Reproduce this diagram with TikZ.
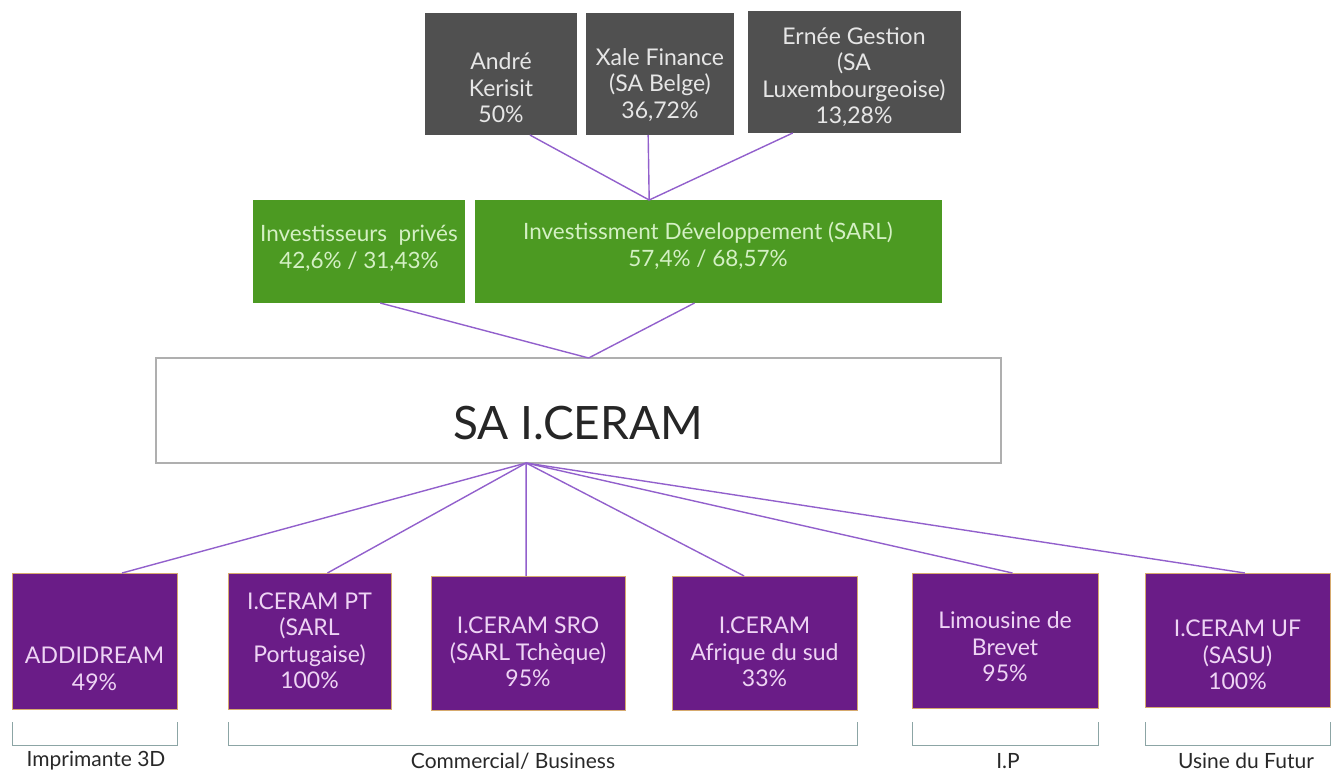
\documentclass[tikz,border=0pt]{standalone}
\usepackage{fontspec}
\setmainfont{Lato}
\usetikzlibrary{calc}
\definecolor{boxgray}{RGB}{80,80,80}
\definecolor{boxgreen}{RGB}{76,154,34}
\definecolor{boxpurple}{RGB}{106,28,135}
\definecolor{purpleedge}{RGB}{214,170,110}
\definecolor{connc}{RGB}{146,96,204}
\definecolor{brkc}{RGB}{140,165,165}
\definecolor{graytxt}{RGB}{230,230,230}
\definecolor{greentxt}{RGB}{212,240,196}
\definecolor{purpletxt}{RGB}{238,212,244}
\definecolor{labtxt}{RGB}{40,40,40}
\definecolor{saedge}{RGB}{175,175,175}
\begin{document}
\begin{tikzpicture}[x=1pt,y=-1pt,
  base/.style={rectangle, anchor=north west, inner sep=0pt, outer sep=0pt},
  graybox/.style={base, fill=boxgray},
  greenbox/.style={base, fill=boxgreen},
  purplebox/.style={base, fill=boxpurple, draw=purpleedge, line width=0.8pt},
  sabox/.style={base, fill=white, draw=saedge, line width=1.3pt},
  txt/.style={align=center, inner sep=0pt, font=\fontsize{23}{26.5}\selectfont},
  graytext/.style={txt, text=graytxt},
  greentext/.style={txt, text=greentxt, font=\fontsize{22.5}{26.5}\selectfont},
  purpletext/.style={txt, text=purpletxt},
  labtext/.style={align=center, inner sep=0pt, text=labtxt, font=\fontsize{21}{24}\selectfont},
  conn/.style={draw=connc, line width=1.4pt},
  brk/.style={draw=brkc, line width=1pt},
]
\useasboundingbox (0,0) rectangle (1341,771);

% top owners
\node[graybox, minimum width=152pt, minimum height=122pt] (andre) at (425,13) {};
\node[graybox, minimum width=148pt, minimum height=122pt] (xale) at (586,13) {};
\node[graybox, minimum width=213pt, minimum height=122pt] (ernee) at (748,11) {};
\node[graytext] (andret) at (501,88) {André\\Kerisit\\50\%};
\node[graytext] (xalet) at (660,85) {Xale Finance\\(SA Belge)\\36,72\%};
\node[graytext] (erneet) at (854,77) {Ernée Gestion\\(SA\\Luxembourgeoise)\\13,28\%};

% green shareholders
\node[greenbox, minimum width=212pt, minimum height=103pt] (inv) at (253,200) {};
\node[greenbox, minimum width=467pt, minimum height=103pt] (invdev) at (475,200) {};
\node[greentext] (invt) at (359,248.5) {Investisseurs\ \ privés\\42,6\% / 31,43\%};
\node[greentext] (invdevt) at (708,246) {Investissment Développement (SARL)\\57,4\% / 68,57\%};

% main company
\node[sabox, minimum width=845pt, minimum height=105pt] (sa) at (156,358) {};
\node[txt, text=black!85, font=\fontsize{46}{52}\selectfont] (sat) at (578,423) {SA I.CERAM};

% subsidiaries
\node[purplebox, minimum width=165pt, minimum height=136pt] (addi) at (12,573) {};
\node[purplebox, minimum width=163pt, minimum height=136pt] (pt) at (228,573) {};
\node[purplebox, minimum width=194pt, minimum height=134pt] (sro) at (431,576) {};
\node[purplebox, minimum width=185pt, minimum height=134pt] (afr) at (672,576) {};
\node[purplebox, minimum width=186pt, minimum height=135pt] (limo) at (912,573) {};
\node[purplebox, minimum width=185pt, minimum height=134pt] (uf) at (1145,573) {};
\node[purpletext] (addit) at (94.5,669) {ADDIDREAM\\49\%};
\node[purpletext] (ptt) at (309.5,641) {I.CERAM PT\\(SARL\\Portugaise)\\100\%};
\node[purpletext] (srot) at (528,652) {I.CERAM SRO\\(SARL Tchèque)\\95\%};
\node[purpletext] (afrt) at (764.5,652) {I.CERAM\\Afrique du sud\\33\%};
\node[purpletext] (limot) at (1005,647) {Limousine de\\Brevet\\95\%};
\node[purpletext] (uft) at (1237.5,655) {I.CERAM UF\\(SASU)\\100\%};

% junctions
\coordinate (jtop) at ($(invdev.north west)!0.373!(invdev.north east)$);
\coordinate (jsa) at ($(sa.north west)!0.512!(sa.north east)$);
\coordinate (jbot) at ($(sa.south west)!0.438!(sa.south east)$);

% connectors
\draw[conn] ($(andre.south west)!0.69!(andre.south east)$) -- (jtop);
\draw[conn] ($(xale.south west)!0.42!(xale.south east)$) -- (jtop);
\draw[conn] ($(ernee.south west)!0.21!(ernee.south east)$) -- (jtop);
\draw[conn] ($(inv.south west)!0.6!(inv.south east)$) -- (jsa);
\draw[conn] ($(invdev.south west)!0.47!(invdev.south east)$) -- (jsa);
\draw[conn] (jbot) -- ($(addi.north west)!0.667!(addi.north east)$);
\draw[conn] (jbot) -- ($(pt.north west)!0.61!(pt.north east)$);
\draw[conn] (jbot) -- ($(sro.north west)!0.49!(sro.north east)$);
\draw[conn] (jbot) -- ($(afr.north west)!0.39!(afr.north east)$);
\draw[conn] (jbot) -- ($(limo.north west)!0.54!(limo.north east)$);
\draw[conn] (jbot) -- ($(uf.north west)!0.54!(uf.north east)$);

% brackets
\coordinate (b1a) at (addi.south west |- 0,722);
\coordinate (b1b) at (addi.south east |- 0,722);
\coordinate (b2a) at (pt.south west |- 0,722);
\coordinate (b2b) at (afr.south east |- 0,722);
\coordinate (b3a) at (limo.south west |- 0,722);
\coordinate (b3b) at (limo.south east |- 0,722);
\coordinate (b4a) at (uf.south west |- 0,722);
\coordinate (b4b) at (uf.south east |- 0,722);
\draw[brk] (b1a) -- ++(0,23) -| (b1b);
\draw[brk] (b2a) -- ++(0,23) -| (b2b);
\draw[brk] (b3a) -- ++(0,23) -| (b3b);
\draw[brk] (b4a) -- ++(0,23) -| (b4b);

% group labels
\node[labtext] (l1) at (96,761) {Imprimante 3D};
\node[labtext] (l2) at (513,761) {Commercial/ Business};
\node[labtext] (l3) at (1008,761) {I.P};
\node[labtext] (l4) at (1246,761) {Usine du Futur};
\end{tikzpicture}
\end{document}
